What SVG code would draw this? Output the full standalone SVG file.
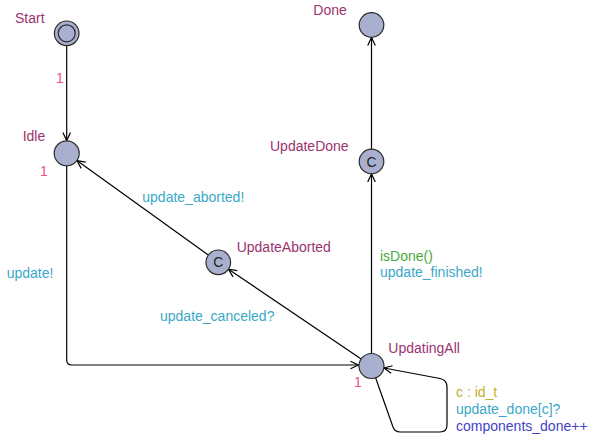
<svg xmlns="http://www.w3.org/2000/svg" width="596" height="442" viewBox="0 0 596 442">
<style>
text{font-family:"Liberation Sans",Arial,sans-serif;font-size:14px}
.name{fill:#9b3370}
.prob{fill:#f0508a}
.sync{fill:#3aa8c8}
.guard{fill:#4aaa3a}
.sel{fill:#c2b030}
.upd{fill:#4242c8}
.loc{fill:#a9b0cf;stroke:#2a2a2a;stroke-width:1.2}
.edge{fill:none;stroke:#000;stroke-width:1.2}
.c{fill:#222;text-anchor:middle}
</style>
<defs>
<marker id="ah" markerUnits="userSpaceOnUse" markerWidth="12" markerHeight="12" viewBox="-10 -6 12 12" refX="0" refY="0" orient="auto">
<path d="M -8 -3.8 L 0 0 L -8 3.8" fill="none" stroke="#000" stroke-width="1.2"/>
</marker>
</defs>
<rect width="596" height="442" fill="#fff"/>
<g id="connectors">
<path class="edge" d="M 66.7 45.5 L 66.7 140.5" marker-end="url(#ah)"/>
<path class="edge" d="M 66.7 165.8 L 66.7 360 Q 66.7 365 71.7 365 L 358.5 365" marker-end="url(#ah)"/>
<path class="edge" d="M 371.5 353.5 L 371.5 174" marker-end="url(#ah)"/>
<path class="edge" d="M 371.5 149 L 371.5 37.5" marker-end="url(#ah)"/>
<path class="edge" d="M 361.2 359 L 228.5 269.2" marker-end="url(#ah)"/>
<path class="edge" d="M 208.3 255.1 L 76.9 160.6" marker-end="url(#ah)"/>
<path class="edge" d="M 375.5 377.5 L 393 427 Q 395 432 400 432 L 440 432 Q 447 432 447 425 L 447 387 Q 447 380 440 378.5 L 384 368" marker-end="url(#ah)"/>
</g>
<g id="Start">
<circle class="loc" cx="66.7" cy="33.3" r="12.3"/>
<circle class="loc" cx="66.7" cy="33.3" r="8.5"/>
<text class="name" x="15" y="22.7">Start</text>
</g>
<g id="Idle">
<circle class="loc" cx="66.7" cy="153.3" r="12.5"/>
<text class="name" x="22.7" y="140.7">Idle</text>
</g>
<g id="Done">
<circle class="loc" cx="371.5" cy="25" r="12.3"/>
<text class="name" x="313.3" y="15">Done</text>
</g>
<g id="UpdateDone">
<circle class="loc" cx="371.5" cy="161.5" r="12.3"/>
<text class="c" x="371.5" y="166.5">C</text>
<text class="name" x="270" y="150.7">UpdateDone</text>
</g>
<g id="UpdateAborted">
<circle class="loc" cx="218.3" cy="262.3" r="12.3"/>
<text class="c" x="218.3" y="267.3">C</text>
<text class="name" x="236.7" y="252.3">UpdateAborted</text>
</g>
<g id="UpdatingAll">
<circle class="loc" cx="371.5" cy="366" r="12.5"/>
<text class="name" x="388.3" y="353.3">UpdatingAll</text>
</g>
<g id="labels">
<text class="prob" x="56" y="82.7">1</text>
<text class="prob" x="40" y="176">1</text>
<text class="prob" x="354" y="386.7">1</text>
<text class="sync" x="6.7" y="278.3">update!</text>
<text class="sync" x="142.3" y="202">update_aborted!</text>
<text class="sync" x="160" y="320.5">update_canceled?</text>
<text class="guard" x="380" y="261">isDone()</text>
<text class="sync" x="380" y="277">update_finished!</text>
<text class="sel" x="456" y="396.7">c : id_t</text>
<text class="sync" x="456" y="413.5">update_done[c]?</text>
<text class="upd" x="456" y="430.5">components_done++</text>
</g>
</svg>
